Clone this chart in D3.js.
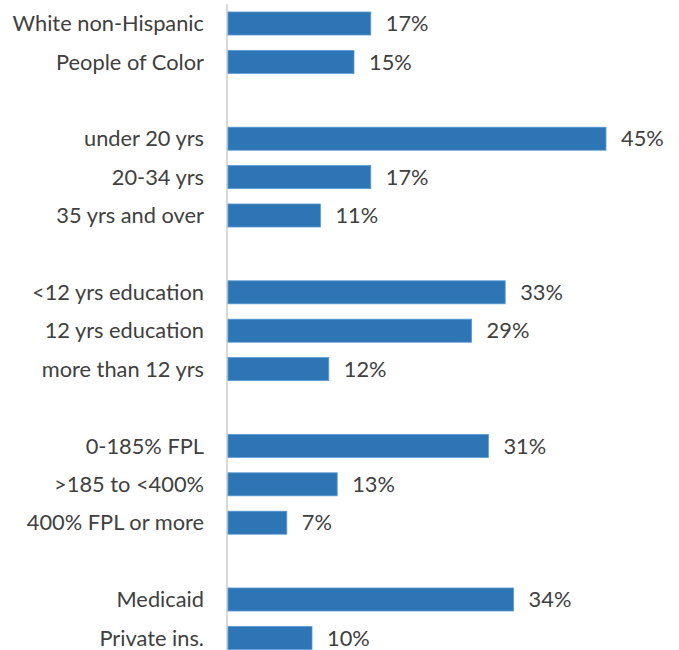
<!DOCTYPE html>
<html>
<head>
<meta charset="utf-8">
<script src="https://cdn.jsdelivr.net/npm/d3@7"></script>
<style>
  html, body { margin: 0; padding: 0; background: #fff; }
  svg { display: block; }
</style>
</head>
<body>
<svg id="chart" width="679" height="650"></svg>
<script>
// Category labels, top to bottom; empty strings are spacer rows between groups
const categories = [
  "White non-Hispanic", "People of Color", "",
  "under 20 yrs", "20-34 yrs", "35 yrs and over", "",
  "<12 yrs education", "12 yrs education", "more than 12 yrs", "",
  "0-185% FPL", ">185 to <400%", "400% FPL or more", "",
  "Medicaid", "Private ins."
];
// Percent values aligned with categories (null for spacer rows)
const values = [
  17, 15, null,
  45, 17, 11, null,
  33, 29, 12, null,
  31, 13, 7, null,
  34, 10
];

const rows = categories.map((c, i) => ({ i, label: c, value: values[i] }));

const svg = d3.select("#chart");
const axisX = 228;

const x = d3.scaleLinear().domain([0, 45]).range([axisX, 606]);
const y = d3.scaleBand()
  .domain(rows.map(d => d.i))
  .range([4.3, 4.3 + 17 * 38.4])
  .paddingInner(0.4)
  .paddingOuter(0.2);

const font = "Lato, 'Open Sans', sans-serif";
const textColor = "#404040";
const bars = rows.filter(d => d.value != null);

// vertical category axis line
svg.append("line")
  .attr("x1", axisX - 1).attr("x2", axisX - 1)
  .attr("y1", 4).attr("y2", 650)
  .attr("stroke", "#d9d9d9")
  .attr("stroke-width", 2);

// bars
svg.append("g").selectAll("rect")
  .data(bars)
  .join("rect")
  .attr("x", x(0))
  .attr("y", d => y(d.i))
  .attr("width", d => x(d.value) - x(0))
  .attr("height", y.bandwidth())
  .attr("fill", "#2E75B6")
  .attr("stroke", "#5B9BD5")
  .attr("stroke-width", 0.8);

// category labels
svg.append("g").selectAll("text")
  .data(bars)
  .join("text")
  .attr("x", 204)
  .attr("y", d => y(d.i) + y.bandwidth() / 2)
  .attr("dy", "0.35em")
  .attr("text-anchor", "end")
  .attr("font-family", font)
  .attr("font-size", 21.8)
  .attr("fill", textColor)
  .text(d => d.label);

// value labels
svg.append("g").selectAll("text")
  .data(bars)
  .join("text")
  .attr("x", d => x(d.value) + 15)
  .attr("y", d => y(d.i) + y.bandwidth() / 2)
  .attr("dy", "0.35em")
  .attr("font-family", font)
  .attr("font-size", 21.8)
  .attr("fill", textColor)
  .text(d => d.value + "%");
</script>
</body>
</html>
